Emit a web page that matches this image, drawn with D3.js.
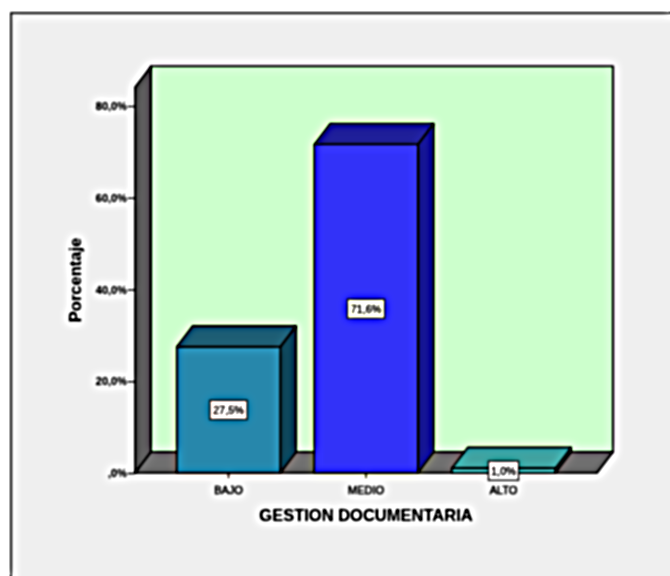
<!DOCTYPE html>
<html><head><meta charset="utf-8">
<script src="https://cdn.jsdelivr.net/npm/d3@7"></script>
<style>html,body{margin:0;padding:0;background:#fff}svg{display:block}
text{font-family:"Liberation Sans",Arial,sans-serif;fill:#000}</style></head>
<body><script>
const categories = ["BAJO", "MEDIO", "ALTO"];
const percentages = [27.5, 71.6, 1.0];
const valueLabels = ["27,5%", "71,6%", "1,0%"];
const yTicks = [0, 20, 40, 60, 80];
const yTickLabels = [",0%", "20,0%", "40,0%", "60,0%", "80,0%"];
const xTitle = "GESTION DOCUMENTARIA";
const yTitle = "Porcentaje";
const frontColors = ["#2787ab", "#3232f8", "#5cc9c9"];
const topColors = ["#1d5c72", "#1e1e96", "#3f9f9d"];
const sideColors = ["#0f465a", "#15158f", "#1f6f6f"];

const W = 670, H = 576;
const svg = d3.select("body").append("svg").attr("width", W).attr("height", H);
const defs = svg.append("defs");
const f = defs.append("filter").attr("id", "scan").attr("filterUnits", "userSpaceOnUse")
  .attr("x", 0).attr("y", 0).attr("width", W).attr("height", H)
  .attr("color-interpolation-filters", "sRGB");
f.append("feGaussianBlur").attr("in", "SourceGraphic").attr("stdDeviation", 0.8).attr("result", "soft");
f.append("feGaussianBlur").attr("in", "SourceGraphic").attr("stdDeviation", 4.5).attr("result", "wide");
f.append("feComposite").attr("in", "soft").attr("in2", "wide").attr("operator", "arithmetic")
  .attr("k1", 0).attr("k2", 1.9).attr("k3", -0.9).attr("k4", 0);

const root = svg.append("g").attr("filter", "url(#scan)");
root.append("rect").attr("width", W).attr("height", H).attr("fill", "#fff");
root.append("rect").attr("x", 11).attr("y", 13).attr("width", W + 20).attr("height", H)
  .attr("fill", "#efefef").attr("stroke", "#222").attr("stroke-width", 1.6);

const y0 = 473, x0 = 135, x1 = 597, dx = 16, dy = -21;
const y = d3.scaleLinear().domain([0, 80]).range([y0, 106]);
const x = d3.scaleBand().domain(categories).range([x0, x1]).paddingInner(0.247).paddingOuter(0.3035);
const yTop = y(84.1);
const poly = (pts, fill) => root.append("polygon").attr("points", pts.map(p => p.join(",")).join(" "))
  .attr("fill", fill).attr("stroke", "#000").attr("stroke-width", 1.6).attr("stroke-linejoin", "round");

// back wall, side wall, floor
poly([[x0 + dx, yTop + dy], [x1 + dx, yTop + dy], [x1 + dx, y0 + dy], [x0 + dx, y0 + dy]], "#ccffcc");
poly([[x0, yTop], [x0 + dx, yTop + dy], [x0 + dx, y0 + dy], [x0, y0]], "#5c5c5c");
poly([[x0, y0], [x0 + dx, y0 + dy], [x1 + dx, y0 + dy], [x1, y0]], "#6e6e6e");

// bars
categories.forEach((c, i) => {
  const l = x(c), r = l + x.bandwidth(), t = y(percentages[i]);
  poly([[r, t], [r + dx, t + dy], [r + dx, y0 + dy], [r, y0]], sideColors[i]);
  poly([[l, t], [l + dx, t + dy], [r + dx, t + dy], [r, t]], topColors[i]);
  poly([[l, t], [r, t], [r, y0], [l, y0]], frontColors[i]);
});

// axes
const yAxis = d3.axisLeft(y).tickValues(yTicks).tickSize(7).tickPadding(1)
  .tickFormat((d, i) => yTickLabels[i]);
const gy = root.append("g").attr("transform", `translate(${x0},0)`).call(yAxis);
gy.select(".domain").remove();
gy.selectAll("line").attr("stroke", "#000").attr("stroke-width", 1.4);
gy.selectAll("text").attr("font-size", 11).attr("font-weight", 700).attr("fill", "#000");

const xAxis = d3.axisBottom(x).tickSize(5).tickPadding(8);
const gx = root.append("g").attr("transform", `translate(0,${y0})`).call(xAxis);
gx.select(".domain").remove();
gx.selectAll("line").attr("stroke", "#000").attr("stroke-width", 1.4);
gx.selectAll("text").attr("font-size", 11).attr("fill", "#000")
  .attr("stroke", "#000").attr("stroke-width", 0.35);

root.append("text").attr("x", 366).attr("y", 521).attr("text-anchor", "middle")
  .attr("font-size", 16.5).attr("font-weight", 700).text(xTitle);
root.append("text").attr("transform", "translate(81,280) rotate(-90)").attr("text-anchor", "middle")
  .attr("font-size", 16.5).attr("font-weight", 700).text(yTitle);

// value labels
categories.forEach((c, i) => {
  const cx = x(c) + x.bandwidth() / 2, cy = (y(percentages[i]) + y0) / 2;
  const w = i === 2 ? 30 : 37, h = 19;
  root.append("rect").attr("x", cx - w / 2).attr("y", cy - h / 2).attr("width", w).attr("height", h)
    .attr("fill", "#fff").attr("stroke", "#000").attr("stroke-width", 1.2);
  root.append("text").attr("x", cx).attr("y", cy + 4).attr("text-anchor", "middle")
    .attr("font-size", 11).attr("stroke", "#000").attr("stroke-width", 0.35).text(valueLabels[i]);
});
</script></body></html>
